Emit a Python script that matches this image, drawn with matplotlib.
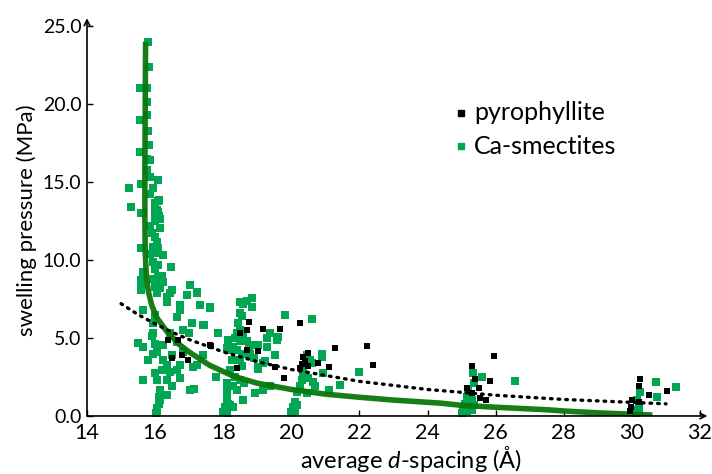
import matplotlib.pyplot as plt
from matplotlib.lines import Line2D

plt.rcParams['font.family'] = ['Lato', 'DejaVu Sans']
plt.rcParams['mathtext.fontset'] = 'custom'
plt.rcParams['mathtext.it'] = 'Lato:italic'
plt.rcParams['mathtext.rm'] = 'Lato'

# Ca-smectites (d-spacing in Angstrom, swelling pressure in MPa)
smec_d = [15.78, 15.82, 15.56, 15.75, 15.75, 15.56, 15.75, 15.80, 15.82, 15.56,
          15.75, 15.85, 15.75, 15.85, 15.60, 15.23, 16.09, 15.95, 15.85, 16.09,
          16.06, 15.28, 15.60, 16.10, 16.00,
          16.00, 16.10, 16.00, 15.63, 16.09, 16.00, 16.14, 15.85, 16.14, 15.90,
          16.00, 16.05, 15.60, 15.94, 16.09, 15.85, 16.05, 16.24, 15.94, 16.09,
          16.46, 15.99, 16.09, 15.65, 15.94, 16.19, 16.09, 15.60, 16.24, 15.99,
          15.60, 16.14, 16.49, 17.02, 17.22, 16.93, 16.34,
          15.60, 16.05, 16.44, 16.93, 17.22, 16.73, 17.32, 17.61, 16.34, 15.65,
          16.00, 16.63, 16.73, 15.95, 17.07, 17.42, 16.83, 17.86, 15.95, 15.90,
          16.44, 17.00, 16.63, 15.99, 15.51, 15.65, 16.24, 16.05, 16.83, 16.50,
          15.95, 16.24, 15.80, 16.34, 16.73, 17.12, 16.19, 16.44, 16.63, 16.00,
          16.73, 17.22, 17.80, 16.34, 16.05, 15.65, 16.49, 16.14, 17.02, 17.15,
          16.34, 16.10, 16.10, 16.05, 16.03, 16.06, 16.14, 18.14, 18.10, 18.14,
          17.61, 17.44, 17.40, 18.49, 18.59, 18.84, 18.70, 18.84, 18.49, 18.55,
          18.44, 18.49, 18.40, 18.59, 18.35, 18.49, 18.70, 18.89, 19.03, 18.30,
          18.20, 18.10, 18.40, 18.55, 18.75, 18.79, 18.25, 18.49, 18.89, 19.03,
          19.18, 19.03, 18.55, 18.20, 18.35, 18.49, 18.10, 18.30, 18.60, 18.40,
          18.93, 19.18, 18.59, 18.10, 18.10, 18.05, 18.20, 18.00, 18.30, 18.10,
          19.28, 19.37, 19.57, 19.60, 19.28, 19.52, 19.23, 19.37, 19.80,
          20.60, 20.45, 20.55, 20.40, 20.60, 20.90, 20.90, 20.35, 20.30, 20.50,
          20.25, 20.65, 20.70, 20.16, 20.45, 20.94, 21.10, 21.43, 22.00, 20.11,
          20.06, 20.00, 20.10, 20.16,
          25.33, 25.59, 25.35, 26.57, 25.20, 25.15, 25.30, 25.10, 25.20, 25.05,
          25.15, 25.00, 25.30, 25.35,
          30.71, 31.30, 30.75, 30.24, 30.15, 30.20, 30.05, 30.21, 30.08]
smec_p = [24.0, 22.4, 21.0, 21.0, 20.1, 19.0, 19.3, 18.3, 17.4, 16.9,
          16.5, 16.4, 15.8, 15.3, 14.9, 14.6, 15.1, 14.6, 14.2, 13.8,
          13.2, 13.4, 13.0, 12.8, 12.5,
          13.65, 13.85, 13.2, 13.0, 13.1, 12.8, 12.6, 12.2, 12.05, 11.7,
          11.5, 11.15, 10.8, 10.85, 10.8, 10.4, 10.45, 10.3, 9.9, 9.7,
          9.55, 9.4, 9.0, 9.2, 8.8, 9.0, 8.6, 8.7, 8.6, 8.3,
          8.2, 8.2, 8.1, 8.4, 7.95, 7.75, 7.6,
          8.1, 7.9, 7.9, 7.75, 7.9, 7.1, 7.1, 7.0, 7.3, 6.8,
          6.5, 6.35, 6.8, 5.95, 5.95, 5.85, 5.5, 5.3, 5.3, 5.1,
          5.3, 5.3, 4.75, 4.6, 4.7, 4.4, 4.55, 4.1, 4.1, 3.9,
          3.95, 3.6, 3.6, 3.25, 3.25, 3.15, 2.95, 2.85, 2.95, 2.75,
          2.45, 3.25, 2.5, 2.3, 2.3, 2.3, 1.9, 1.65, 1.65, 1.75,
          1.35, 1.2, 0.8, 0.5, 0.2, 0.35, 1.0, 4.85, 1.65, 0.8,
          6.9, 5.85, 3.9, 7.3, 7.2, 7.55, 7.4, 7.0, 6.6, 6.4,
          5.95, 5.5, 5.3, 5.2, 5.0, 4.8, 4.8, 4.55, 4.55, 4.45,
          4.2, 4.35, 4.2, 3.95, 4.3, 4.0, 3.6, 3.6, 3.7, 3.15,
          3.4, 3.0, 3.2, 2.95, 2.5, 2.3, 2.1, 1.9, 2.1, 1.65,
          1.45, 1.65, 1.0, 1.2, 0.9, 0.6, 0.7, 0.25, 0.55, 0.15,
          5.0, 5.3, 4.9, 5.05, 4.45, 3.9, 3.5, 1.9, 6.45,
          6.2, 3.9, 3.6, 3.3, 3.4, 4.0, 3.8, 2.75, 2.3, 2.45,
          1.9, 2.2, 1.95, 1.55, 1.45, 2.75, 1.65, 2.0, 2.8, 0.9,
          0.6, 0.25, 0.3, 0.7,
          2.75, 2.5, 2.1, 2.25, 1.65, 1.2, 1.0, 0.8, 0.6, 0.4,
          0.3, 0.2, 0.4, 0.7,
          2.15, 1.85, 1.2, 1.55, 1.05, 0.7, 0.4, 0.3, 0.1]

# pyrophyllite
pyro_d = [16.39, 16.68, 17.61, 16.98, 16.78, 16.50, 17.63,
          18.77, 18.69, 18.49, 19.18, 19.67, 18.70, 19.03, 18.40, 19.52, 19.77,
          20.24, 21.28, 22.21, 22.41, 20.48, 20.35, 20.30, 20.50, 20.79, 21.12,
          20.40, 20.24,
          25.30, 25.95, 25.83, 25.15, 25.52, 25.54, 25.72, 25.30, 25.40,
          30.24, 30.21, 30.51, 31.02, 30.21, 30.00, 29.97, 29.95]
pyro_p = [4.85, 4.9, 4.55, 3.6, 3.9, 3.7, 4.5,
          6.05, 5.5, 5.35, 5.55, 5.55, 4.2, 4.15, 3.1, 3.15, 2.45,
          5.95, 4.35, 4.5, 3.25, 4.05, 3.8, 3.35, 3.2, 3.4, 3.15,
          3.5, 3.1,
          3.2, 3.85, 2.25, 1.8, 1.8, 1.15, 1.05, 1.45, 2.4,
          2.35, 1.9, 1.35, 1.6, 0.9, 1.0, 0.6, 0.3]

# fitted curves
fit_d = [15.72, 15.71, 15.70, 15.70, 15.71, 15.74, 15.80, 15.90, 16.05, 16.35,
         16.70, 17.00, 17.60, 18.30, 19.00, 20.00, 21.00, 22.00, 23.00, 24.40,
         25.00, 26.00, 27.50, 28.00, 29.00, 30.60]
fit_p = [24.0, 20.0, 16.0, 12.5, 10.5, 9.0, 8.0, 7.1, 6.3, 5.4,
         4.6, 4.1, 3.25, 2.55, 2.1, 1.7, 1.4, 1.2, 1.02, 0.82,
         0.68, 0.56, 0.4, 0.32, 0.2, 0.06]

trend_d = [15.0, 15.5, 16.0, 16.5, 17.0, 18.0, 19.0, 20.0, 22.0, 24.0, 26.0, 28.0, 31.0]
trend_p = [7.2, 6.5, 5.91, 5.37, 4.9, 4.11, 3.48, 2.98, 2.22, 1.70, 1.33, 1.06, 0.78]

series_names = ['pyrophyllite', 'Ca-smectites']

green = '#00a651'
dark_green = '#0a760a'

fig = plt.figure(figsize=(7.12, 4.74), dpi=100)
ax = fig.add_axes([0.1222, 0.1224, 0.861, 0.8227])

ax.scatter(smec_d, smec_p, marker='s', s=28, color=green, linewidths=0, zorder=2)
ax.plot(fit_d, fit_p, color=dark_green, lw=4, solid_capstyle='butt', alpha=0.95, zorder=3)
ax.scatter(pyro_d, pyro_p, marker='s', s=24, color='black', linewidths=0, zorder=4)
ax.plot(trend_d, trend_p, color='black', lw=2.4, linestyle=(0, (0.5, 1.8)),
        dash_capstyle='round', zorder=5)

ax.set_xlim(14, 32)
ax.set_ylim(0, 25)
ax.set_xticks(range(14, 33, 2))
ax.set_yticks([0, 5, 10, 15, 20, 25])
ax.set_yticklabels(['0.0', '5.0', '10.0', '15.0', '20.0', '25.0'])
ax.tick_params(direction='in', length=4, width=1)
ax.tick_params(axis='x', labelsize=15.5, pad=5)
ax.tick_params(axis='y', labelsize=14, pad=4)

for s in ['top', 'right', 'left', 'bottom']:
    ax.spines[s].set_visible(False)
ax.annotate('', xy=(1.012, 0), xytext=(0, 0), xycoords='axes fraction',
            arrowprops=dict(arrowstyle='->', lw=1.2, color='black', shrinkA=0, shrinkB=0))
ax.annotate('', xy=(0, 1.02), xytext=(0, 0), xycoords='axes fraction',
            arrowprops=dict(arrowstyle='->', lw=1.2, color='black', shrinkA=0, shrinkB=0))

fig.text(411 / 712, 1 - 468 / 474, 'average $\\it{d}$-spacing (Å)', fontsize=17,
         ha='center', va='baseline')
fig.text(27 / 712, 1 - 220 / 474, 'swelling pressure (MPa)', fontsize=16,
         rotation=90, ha='center', va='center')

# legend drawn as marker + text
for i, (name, col) in enumerate(zip(series_names, ['black', green])):
    yy = 1 - (113 + 33 * i) / 474
    fig.add_artist(Line2D([461 / 712], [yy], marker='s', ls='none', color=col,
                          markersize=4.5, transform=fig.transFigure))
    fig.text(474 / 712, yy, name, fontsize=18, ha='left', va='center')

fig.savefig('out.png', dpi=100)
